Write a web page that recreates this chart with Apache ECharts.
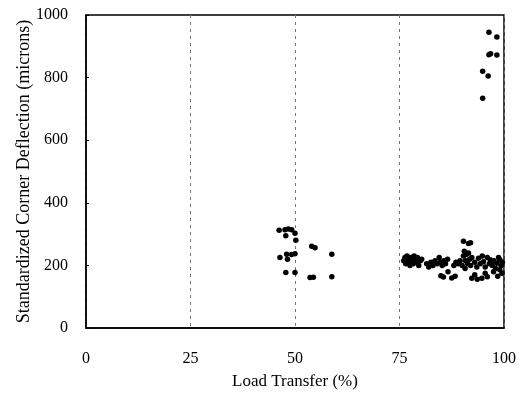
<!DOCTYPE html>
<html>
<head>
<meta charset="utf-8">
<script src="https://cdn.jsdelivr.net/npm/echarts@6/dist/echarts.min.js"></script>
<style>html,body{margin:0;padding:0;background:#fff}#c{width:528px;height:409px}</style>
</head>
<body>
<div id="c"></div>
<script>
var xTicks = [0, 25, 50, 75, 100];
var yTicks = [0, 200, 400, 600, 800, 1000];

var cluster50 = [
  [46.2,312],[47.6,314],[48.4,316],[49.2,314],[47.8,295],[50.0,303],[50.2,280],
  [54.0,261],[54.8,256],[46.4,225],[48.0,236],[48.2,220],[49.2,235],[50.0,237],
  [58.8,236],[47.8,177],[50.0,177],[53.6,161],[54.4,162],[58.8,164]
];

var clusterHigh = [
  [96.4,945],[98.3,930],[96.4,873],[96.8,876],[98.3,872],[94.9,820],[96.2,805],[94.9,734]
];

var clusterLow = [
  [76.0,215],[76.3,225],[76.5,205],[76.8,230],[77.0,210],[77.2,220],[77.5,200],[77.8,225],
  [78.0,215],[78.3,205],[78.5,230],[78.8,220],[79.0,210],[79.3,225],[79.6,200],[80.0,215],[80.3,220],
  [81.5,205],[82.0,195],[82.5,210],[83.0,200],[83.5,215],[84.0,205],[84.5,225],[84.8,210],
  [85.2,200],[85.6,215],[86.0,205],[86.5,220],
  [84.9,167],[85.5,163],[87.5,160],[88.3,165],[86.6,180],
  [88.0,200],[88.5,210],[89.0,205],[89.5,215],[90.0,200],[90.3,230],[90.5,245],[90.8,215],
  [91.0,235],[91.3,205],[91.5,240],[91.8,220],[92.0,200],[92.3,225],[90.3,277],[91.5,270],
  [92.0,272],[90.7,190],
  [92.3,159],[93.6,156],[94.7,159],[96.0,164],[93.0,170],[95.5,175],
  [93.0,210],[93.5,195],[93.9,223],[94.3,205],[94.8,230],[95.1,212],[95.5,195],[96.0,225],
  [96.5,205],[96.7,218],[97.2,200],[97.6,215],[98.0,190],[98.3,207],[98.7,225],[99.0,218],
  [99.3,200],[99.0,186],[99.5,175],[99.6,210],[97.5,180],[98.5,165]
];

var chart = echarts.init(document.getElementById('c'));
var font = 'Liberation Serif';
var dot = {symbolSize: 5.5, itemStyle: {color: '#000', opacity: 1}};
chart.setOption({
  animation: false,
  grid: {left: 86, right: 24, top: 15, bottom: 81, show: true, borderColor: '#000', borderWidth: 1.5},
  xAxis: {
    type: 'value', min: xTicks[0], max: xTicks[xTicks.length-1], interval: 25,
    name: 'Load Transfer (%)', nameLocation: 'middle', nameGap: 45, nameMoveOverlap: false,
    nameTextStyle: {fontFamily: font, fontSize: 17, color: '#000'},
    axisLine: {show: true, lineStyle: {color: '#000', width: 1.5}},
    axisTick: {show: false},
    axisLabel: {fontFamily: font, fontSize: 16, color: '#000', margin: 23, formatter: function(v){return String(v);}},
    splitLine: {show: true, lineStyle: {color: '#777', type: [3, 4], width: 1}}
  },
  yAxis: {
    type: 'value', min: yTicks[0], max: yTicks[yTicks.length-1], interval: 200,
    name: 'Standardized Corner Deflection (microns)', nameLocation: 'middle', nameGap: 53, nameMoveOverlap: false,
    nameTextStyle: {fontFamily: font, fontSize: 18, color: '#000'},
    axisLine: {show: true, lineStyle: {color: '#000', width: 1.5}},
    axisTick: {show: true, inside: true, length: 3, lineStyle: {color: '#000'}},
    axisLabel: {fontFamily: font, fontSize: 16, color: '#000', margin: 18, formatter: function(v){return String(v);}},
    splitLine: {show: false}
  },
  series: [
    Object.assign({type: 'scatter', data: cluster50}, dot),
    Object.assign({type: 'scatter', data: clusterHigh}, dot),
    Object.assign({type: 'scatter', data: clusterLow}, dot)
  ]
});
</script>
</body>
</html>
